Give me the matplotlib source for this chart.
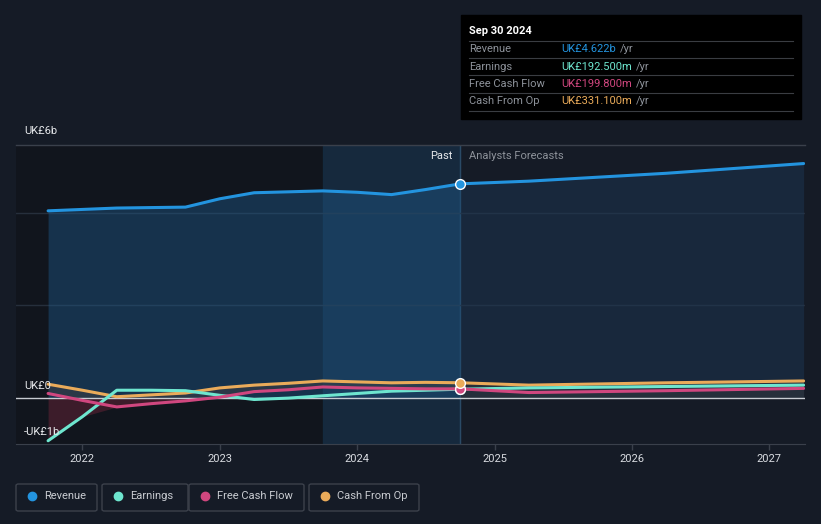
"""Revenue, earnings and cash flow history with analyst forecasts."""

import matplotlib.pyplot as plt
from matplotlib.patches import FancyBboxPatch
import numpy as np


# past quarterly values (UK£ billions, trailing twelve months)
PAST_T = [2021.75, 2022.0, 2022.25, 2022.5, 2022.75, 2023.0, 2023.25,
          2023.5, 2023.75, 2024.0, 2024.25, 2024.5, 2024.75]
PAST_REV = [4.04, 4.07, 4.10, 4.11, 4.12, 4.30, 4.43,
            4.45, 4.47, 4.44, 4.39, 4.50, 4.622]
PAST_EARN = [-0.92, -0.40, 0.17, 0.17, 0.16, 0.06, -0.03,
             0.00, 0.05, 0.10, 0.15, 0.17, 0.1925]
PAST_FCF = [0.10, -0.05, -0.19, -0.12, -0.06, 0.02, 0.14,
            0.18, 0.24, 0.22, 0.21, 0.20, 0.1998]
PAST_CFO = [0.30, 0.17, 0.03, 0.07, 0.11, 0.22, 0.28,
            0.32, 0.37, 0.35, 0.33, 0.34, 0.3311]

# analyst forecasts
FC_T = [2024.75, 2025.25, 2026.25, 2027.25]
FC_REV = [4.622, 4.68, 4.85, 5.06]
FC_EARN = [0.1925, 0.22, 0.25, 0.28]
FC_FCF = [0.1998, 0.12, 0.16, 0.21]
FC_CFO = [0.3311, 0.28, 0.33, 0.37]

YEARS = [2022, 2023, 2024, 2025, 2026, 2027]

COLORS = {'Revenue': '#2394df', 'Earnings': '#6ee6cf',
          'Free Cash Flow': '#d0477f', 'Cash From Op': '#eaab5a'}
TOOLTIP = [('Revenue', 'UK£4.622b'), ('Earnings', 'UK£192.500m'),
           ('Free Cash Flow', 'UK£199.800m'), ('Cash From Op', 'UK£331.100m')]

BG = '#151b26'
W, H = 821, 524


def px(x, y):
    """Convert pixel position to figure fraction."""
    return x / W, 1 - y / H


def main():
    plt.rcParams['font.family'] = ['Roboto', 'DejaVu Sans']
    fig = plt.figure(figsize=(W / 100, H / 100), dpi=100, facecolor=BG)
    ax = fig.add_axes([16 / W, (H - 444) / H, (805 - 16) / W, (444 - 145) / H])
    ax.set_facecolor(BG)
    xmin = 2021.75 - 32 / 137.0
    ax.set_xlim(xmin, 2027.26)
    ax.set_ylim(-0.99, 5.46)

    # background regions
    ax.axvspan(xmin, 2023.75, color='#11151d', zorder=0)
    ax.axvspan(2023.75, 2024.75, color='#173550', alpha=0.55, zorder=0)
    ax.axvline(2024.75, color='#2a4a66', lw=1, zorder=1)

    # gridlines
    for v in [2.0, 4.0]:
        ax.axhline(v, color='#262f3c', lw=1, zorder=1)
    ax.axhline(5.46, color='#3a404b', lw=1, zorder=1, clip_on=False)
    ax.axhline(0, color='#c8ccd2', lw=1, zorder=3)

    pt = np.array(PAST_T)
    ft = np.array(FC_T)

    # fills
    ax.fill_between(pt, 0, PAST_REV, color='#1e5786', alpha=0.45, lw=0,
                    zorder=1)
    ax.fill_between(ft, 0, FC_REV, color='#1d3a57', alpha=0.45, lw=0,
                    zorder=1)
    neg = np.minimum(np.array(PAST_EARN), np.array(PAST_FCF))
    ax.fill_between(pt, 0, np.minimum(neg, 0), color='#5a2233', alpha=0.6,
                    lw=0, zorder=2)
    ax.fill_between(pt, np.maximum(PAST_FCF, 0), PAST_CFO, color='#3a3d44',
                    alpha=0.6, lw=0, zorder=2)
    ax.fill_between(ft, 0, FC_CFO, color='#30343b', alpha=0.6, lw=0,
                    zorder=2)

    # lines
    series = [('Cash From Op', PAST_CFO, FC_CFO),
              ('Earnings', PAST_EARN, FC_EARN),
              ('Free Cash Flow', PAST_FCF, FC_FCF),
              ('Revenue', PAST_REV, FC_REV)]
    for name, past, fc in series:
        c = COLORS[name]
        ax.plot(pt, past, color=c, lw=2.2, zorder=4, solid_capstyle='round')
        ax.plot(ft, fc, color=c, lw=2.2, zorder=4, solid_capstyle='round')
    for name, past, fc in [series[1], series[2], series[0], series[3]]:
        ax.plot(pt[-1], past[-1], 'o', ms=7, color=COLORS[name],
                mec='white', mew=1.0, zorder=5)

    # axes styling
    for side in ['top', 'right', 'left']:
        ax.spines[side].set_visible(False)
    ax.spines['bottom'].set_color('#3a404b')
    ax.set_yticks([])
    ax.set_xticks(YEARS)
    ax.set_xticklabels([str(y) for y in YEARS])
    ax.tick_params(axis='x', colors='#3a404b', length=4, width=1,
                   labelcolor='#d9dce1', labelsize=8, pad=3)

    # y labels
    for y, s in [(131, 'UK£6b'), (386, 'UK£0'), (432, '-UK£1b')]:
        fig.text(*px(24, y), s, color='#e6e8eb', fontsize=8, va='center',
                 ha='left')

    fig.text(*px(452, 156), 'Past', color='#e6e8eb', fontsize=8,
             ha='right', va='center')
    fig.text(*px(469, 156), 'Analysts Forecasts', color='#8d929a',
             fontsize=8, ha='left', va='center')

    # tooltip
    box = plt.Rectangle(px(461, 119), 340 / W, 104 / H, color='black',
                        transform=fig.transFigure, zorder=10)
    fig.add_artist(box)
    fig.text(*px(469, 31), 'Sep 30 2024', color='white', fontsize=8,
             weight='bold', va='center', zorder=11)
    for i, (name, val) in enumerate(TOOLTIP):
        y = 49 + i * 17.5
        fig.text(*px(469, y), name, color='#8d929a', fontsize=8,
                 va='center', zorder=11)
        t = fig.text(*px(561, y), val, color=COLORS[name], fontsize=8,
                     va='center', zorder=11)
        fig.canvas.draw()
        bb = t.get_window_extent()
        fig.text(bb.x1 / W + 4 / W, px(0, y)[1], '/yr', color='#8d929a',
                 fontsize=8, va='center', zorder=11)
    for y in [41, 58, 75, 93, 111]:
        fig.add_artist(plt.Line2D([469 / W, 793 / W], [1 - y / H] * 2,
                                  color='#3a3d42', lw=0.8, zorder=11))

    # legend buttons
    for name, x0, x1 in [('Revenue', 16, 97), ('Earnings', 102, 188),
                         ('Free Cash Flow', 189, 304),
                         ('Cash From Op', 309, 419)]:
        bx, by = px(x0, 511)
        fig.add_artist(FancyBboxPatch((bx, by), (x1 - x0) / W, 27 / H,
                                      boxstyle='round,pad=0,rounding_size=0.003',
                                      transform=fig.transFigure, fc=BG,
                                      ec='#3c414b', lw=1))
        fig.add_artist(plt.Line2D([(x0 + 16) / W], [1 - 496 / H], marker='o',
                                  ms=6, color=COLORS[name], lw=0))
        fig.text(*px(x0 + 28, 496), name, color='#c9ccd1', fontsize=8,
                 va='center')

    fig.savefig('out.png', dpi=100, facecolor=BG)


if __name__ == '__main__':
    main()
